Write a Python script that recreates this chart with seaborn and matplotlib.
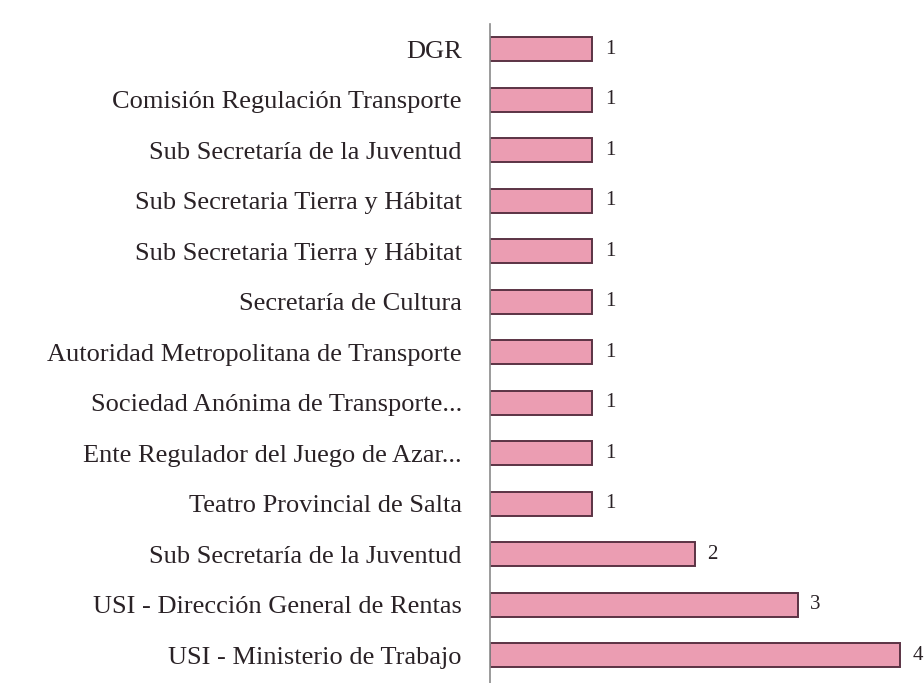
import numpy as np
import pandas as pd
import matplotlib
matplotlib.use("Agg")
import matplotlib.pyplot as plt
import seaborn as sns

labels = [
    "DGR",
    "Comisión Regulación Transporte",
    "Sub Secretaría de la Juventud",
    "Sub Secretaria Tierra y Hábitat",
    "Sub Secretaria Tierra y Hábitat",
    "Secretaría de Cultura",
    "Autoridad Metropolitana de Transporte",
    "Sociedad Anónima de Transporte...",
    "Ente Regulador del Juego de Azar...",
    "Teatro Provincial de Salta",
    "Sub Secretaría de la Juventud",
    "USI - Dirección General de Rentas",
    "USI - Ministerio de Trabajo",
]
values = [1, 1, 1, 1, 1, 1, 1, 1, 1, 1, 2, 3, 4]

# unique keys so repeated names stay separate bars
keys = [f"k{i}" for i in range(len(labels))]
df = pd.DataFrame({"key": keys, "value": values})

sns.set_style("white")
plt.rcParams["font.family"] = ["Liberation Serif", "DejaVu Serif"]

fig = plt.figure(figsize=(9.24, 6.83), dpi=100)
ax = fig.add_axes([0.530, 0.0, 0.47, 0.965])

sns.barplot(data=df, x="value", y="key", order=keys, orient="h",
            color="#eb9db2", edgecolor="#5b3344", linewidth=1.4,
            width=0.47, saturation=1, ax=ax)

ax.set_yticks(range(len(labels)))
ax.set_yticklabels(labels, fontsize=19, color="#2a2226")
ax.tick_params(axis="y", length=0, pad=20)
ax.set_xlim(0, 4.23)
ax.set_ylim(len(labels) - 0.45, -0.5)
ax.set_xticks([])
ax.set_xlabel("")
ax.set_ylabel("")

for s in ["top", "right", "bottom"]:
    ax.spines[s].set_visible(False)
ax.spines["left"].set_color("#8a8a8a")
ax.spines["left"].set_linewidth(1.2)

for i, v in enumerate(values):
    ax.text(v + 0.12, i, str(v), va="center", ha="left",
            fontsize=15, color="#2a2226", clip_on=False)

fig.savefig("out.png", dpi=100)
